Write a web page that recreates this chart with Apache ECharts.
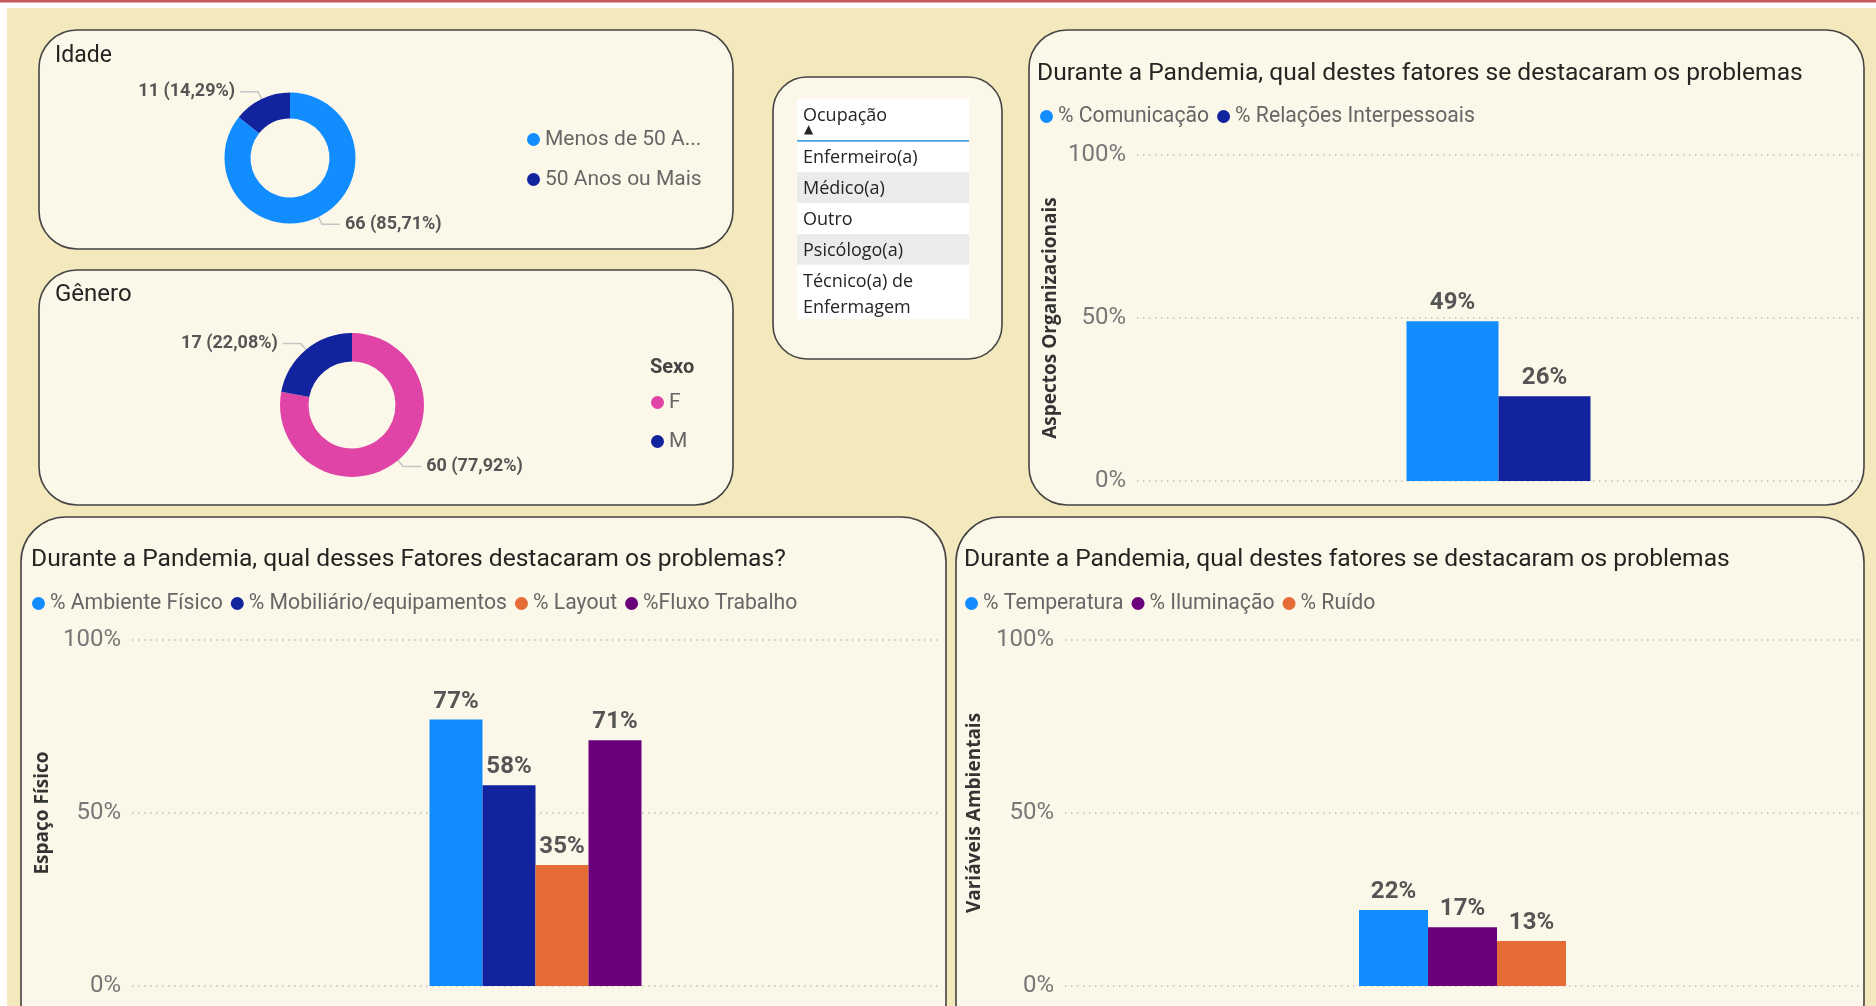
<!DOCTYPE html>
<html>
<head>
<meta charset="utf-8">
<script src="https://cdn.jsdelivr.net/npm/echarts@6/dist/echarts.min.js"></script>
<style>
  html, body { margin: 0; padding: 0; background: #fff; }
  #main { width: 1876px; height: 1006px; }
</style>
</head>
<body>
<div id="main"></div>
<script>
// dados do painel
const idadeNomes = ['Menos de 50 Anos', '50 Anos ou Mais']
const idadeValores = [66, 11]
const sexoNomes = ['F', 'M']
const sexoValores = [60, 17]
const ocupacoes = ['Enfermeiro(a)', 'Médico(a)', 'Outro', 'Psicólogo(a)', 'Técnico(a) de\nEnfermagem']
const orgSeries = ['% Comunicação', '% Relações Interpessoais']
const orgValores = [49, 26]
const fisicoSeries = ['% Ambiente Físico', '% Mobiliário/equipamentos', '% Layout', '%Fluxo Trabalho']
const fisicoValores = [77, 58, 35, 71]
const ambSeries = ['% Temperatura', '% Iluminação', '% Ruído']
const ambValores = [22, 17, 13]
const yMax = 100
const yIntervalo = 50

// cores (padrão Power BI)
const AZUL = '#118DFF', MARINHO = '#12239E', LARANJA = '#E66C37', ROXO = '#6B007B', ROSA = '#E044A7'
const idadeCores = [AZUL, MARINHO]
const sexoCores = [ROSA, MARINHO]
const orgCores = [AZUL, MARINHO]
const fisicoCores = [AZUL, MARINHO, LARANJA, ROXO]
const ambCores = [AZUL, ROXO, LARANJA]

const DIN = 'Roboto'

const myChart = echarts.init(document.getElementById('main'))

function painel(x, y, w, h, r) {
  return {
    type: 'rect', z: -5,
    shape: { x, y, width: w, height: h, r },
    style: { fill: '#FCF8E9', stroke: '#444', lineWidth: 1.6 }
  }
}

function barras(gi, nomes, valores, cores, largura) {
  return nomes.map((n, i) => ({
    name: n,
    type: 'bar',
    xAxisIndex: gi,
    yAxisIndex: gi,
    data: [valores[i]],
    barWidth: largura,
    barGap: '0%',
    itemStyle: { color: cores[i] },
    emphasis: { disabled: true },
    label: {
      show: true, position: 'top', distance: 6, formatter: '{c}%',
      fontFamily: DIN, fontWeight: 'bold', fontSize: 24, color: '#555'
    }
  }))
}

function eixoY(gi, nome, gap) {
  return {
    type: 'value', gridIndex: gi, min: 0, max: yMax, interval: yIntervalo,
    name: nome, nameLocation: 'middle', nameGap: gap,
    nameTextStyle: { fontFamily: 'Open Sans', fontWeight: 'bold', fontSize: 19, color: '#333' },
    axisLabel: { formatter: '{value}%', fontFamily: DIN, fontSize: 24, color: '#777', margin: 11, padding: [4, 0, 0, 0] },
    splitLine: { lineStyle: { color: '#BDBDBD', width: 1.5, type: [1.5, 4.5] } }
  }
}

function eixoX(gi) {
  return {
    type: 'category', gridIndex: gi, data: [''],
    axisLine: { show: false }, axisTick: { show: false }, axisLabel: { show: false }
  }
}

function legendaBarras(nomes, left, top) {
  return {
    data: nomes, left, top, padding: 0, itemGap: 8, icon: 'circle',
    itemWidth: 13, itemHeight: 13, selectedMode: false,
    textStyle: { fontFamily: DIN, fontSize: 21.2, color: '#666' }
  }
}

const rotuloPizza = {
  formatter: p => p.value + ' (' + p.percent.toFixed(2).replace('.', ',') + '%)',
  fontFamily: DIN, fontWeight: 'bold', fontSize: 18, color: '#555'
}
const linhaPizza = { length: 8, length2: 18, lineStyle: { color: '#C4C4C4', width: 1.5 } }

function tituloTexto(text, left, top, size, weight, color) {
  return {
    text, left, top, padding: 0,
    textStyle: { fontFamily: DIN, fontSize: size, fontWeight: weight || 'normal', color: color || '#252423' }
  }
}

// segmentador de Ocupação
const slicer = [
  { type: 'rect', z: 1, shape: { x: 797, y: 99, width: 172, height: 220 }, style: { fill: '#fff' } },
  { type: 'text', z: 2, style: { text: 'Ocupação', x: 803, y: 116, verticalAlign: 'middle', font: '18px "Open Sans"', fill: '#252423' } },
  { type: 'text', z: 2, style: { text: '▲', x: 804, y: 130, verticalAlign: 'middle', font: '12px "DejaVu Sans"', fill: '#252423' } },
  { type: 'rect', z: 2, shape: { x: 797, y: 140, width: 172, height: 1.8 }, style: { fill: '#4AA3DF' } }
]
ocupacoes.forEach((o, i) => {
  const y0 = 141.5 + i * 30.8
  const duasLinhas = o.includes('\n')
  if (i % 2 === 1) {
    slicer.push({ type: 'rect', z: 1.5, shape: { x: 797, y: y0, width: 172, height: 30.8 }, style: { fill: '#EBEBEB' } })
  }
  slicer.push({
    type: 'text', z: 2,
    style: {
      text: o, x: 803, y: duasLinhas ? y0 + 4 : y0 + 16.5,
      verticalAlign: duasLinhas ? 'top' : 'middle',
      font: '18px "Open Sans"', fill: '#252423', lineHeight: 26
    }
  })
})

myChart.setOption({
  animation: false,
  title: [
    tituloTexto('Idade', 55, 45, 23),
    tituloTexto('Gênero', 55, 283, 24),
    tituloTexto('Sexo', 650, 358, 20, 'bold', '#444'),
    tituloTexto('Durante a Pandemia, qual destes fatores se destacaram os problemas', 1037, 61, 24.6),
    tituloTexto('Durante a Pandemia, qual desses Fatores destacaram os problemas?', 31, 547, 24.6),
    tituloTexto('Durante a Pandemia, qual destes fatores se destacaram os problemas', 964, 547, 24.6)
  ],
  legend: [
    {
      data: idadeNomes, orient: 'vertical', left: 527, top: 129, padding: 0, itemGap: 19,
      icon: 'circle', itemWidth: 13, itemHeight: 13, selectedMode: false,
      // o Power BI corta os nomes longos
      formatter: n => n.length > 15 ? n.slice(0, 13) + '...' : n,
      textStyle: { fontFamily: DIN, fontSize: 21, color: '#666' }
    },
    {
      data: sexoNomes, orient: 'vertical', left: 651, top: 392, padding: 0, itemGap: 18,
      icon: 'circle', itemWidth: 13, itemHeight: 13, selectedMode: false,
      textStyle: { fontFamily: DIN, fontSize: 21, color: '#666' }
    },
    legendaBarras(orgSeries, 1040, 106),
    legendaBarras(fisicoSeries, 32, 593),
    legendaBarras(ambSeries, 965, 593)
  ],
  grid: [
    { left: 1137, top: 155, width: 723, height: 326 },
    { left: 132, top: 640, width: 807, height: 346 },
    { left: 1065, top: 640, width: 795, height: 346 }
  ],
  xAxis: [eixoX(0), eixoX(1), eixoX(2)],
  yAxis: [
    eixoY(0, 'Aspectos Organizacionais', 77),
    eixoY(1, 'Espaço Físico', 80),
    eixoY(2, 'Variáveis Ambientais', 81)
  ],
  graphic: [
    { type: 'rect', z: -10, shape: { x: 0, y: 0, width: 1876, height: 2.5 }, style: { fill: '#C55A5E' } },
    { type: 'rect', z: -10, shape: { x: 7, y: 8, width: 1869, height: 998 }, style: { fill: '#F3E9BD' } },
    painel(39, 30, 694, 219, 38),
    painel(39, 270, 694, 235, 38),
    painel(773, 77, 229, 282, 34),
    painel(1029, 30, 835, 475, 38),
    painel(21, 517, 925, 530, 45),
    painel(956, 517, 908, 530, 45),
    ...slicer
  ],
  series: [
    {
      type: 'pie', name: 'Idade', center: [290, 158], radius: [39.5, 65.5],
      startAngle: 90, clockwise: true, emphasis: { disabled: true },
      data: idadeNomes.map((n, i) => ({ name: n, value: idadeValores[i], itemStyle: { color: idadeCores[i] } })),
      label: rotuloPizza, labelLine: linhaPizza
    },
    {
      type: 'pie', name: 'Sexo', center: [352, 405], radius: [43.5, 72],
      startAngle: 90, clockwise: true, emphasis: { disabled: true },
      data: sexoNomes.map((n, i) => ({ name: n, value: sexoValores[i], itemStyle: { color: sexoCores[i] } })),
      label: rotuloPizza, labelLine: linhaPizza
    },
    ...barras(0, orgSeries, orgValores, orgCores, 92),
    ...barras(1, fisicoSeries, fisicoValores, fisicoCores, 53),
    ...barras(2, ambSeries, ambValores, ambCores, 69)
  ]
})
</script>
</body>
</html>
